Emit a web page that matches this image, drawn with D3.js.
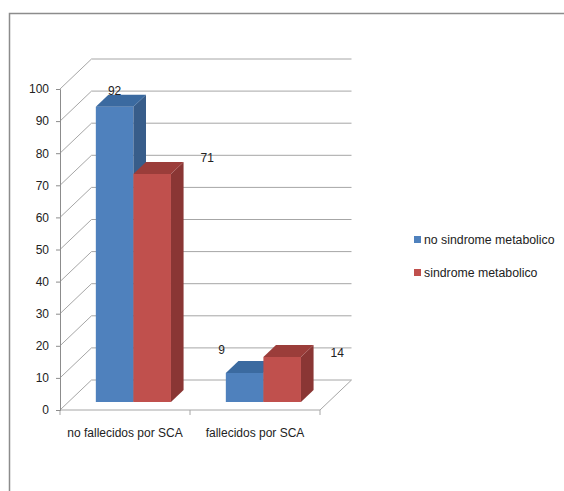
<!DOCTYPE html>
<html>
<head>
<meta charset="utf-8">
<script src="https://cdn.jsdelivr.net/npm/d3@7"></script>
<style>
  body { margin: 0; background: #fff; }
  text { font-family: "Liberation Sans", Arial, sans-serif; fill: #222; }
</style>
</head>
<body>
<div id="chart"></div>
<script>
// data
const categories = ["no fallecidos por SCA", "fallecidos por SCA"];
const seriesNames = ["no sindrome metabolico", "sindrome metabolico"];
const noSindrome = [92, 9];
const sindrome = [71, 14];
const yTicks = [0, 10, 20, 30, 40, 50, 60, 70, 80, 90, 100];

const seriesValues = [noSindrome, sindrome];
const colors = [
    { front: "#4f81bd", side: "#385d8a", top: "#3b6aa0" },
    { front: "#c0504d", side: "#8a3634", top: "#9b3d3a" }
];

const W = 564, H = 491;
const wallDepth = 30;
const barFront = 8, barBack = 20;
// oblique projection: depth d moves a point right and up
const px = d => d * 1.05;
const py = d => -d;

const svg = d3.select("#chart").append("svg")
    .attr("width", W)
    .attr("height", H);

// outer frame
svg.append("path")
    .attr("d", "M9.5," + H + " L9.5,13.5 L" + W + ",13.5")
    .attr("fill", "none")
    .attr("stroke", "#8c8c8c")
    .attr("stroke-width", 1.5);

var x0 = d3.scaleBand()
    .domain(categories)
    .range([60, 320]);

var x1 = d3.scaleBand()
    .domain(seriesNames)
    .range([0, x0.bandwidth()])
    .paddingOuter(0.73);

var y = d3.scaleLinear()
    .domain([0, 100])
    .range([410, 89]);

const grid = svg.append("g").attr("stroke", "#a6a6a6").attr("fill", "none");

// back wall gridlines + left wall diagonals
yTicks.forEach(t => {
    grid.append("line")
        .attr("x1", x0.range()[0] + px(wallDepth)).attr("y1", y(t) + py(wallDepth))
        .attr("x2", x0.range()[1] + px(wallDepth)).attr("y2", y(t) + py(wallDepth));
    grid.append("line")
        .attr("x1", x0.range()[0]).attr("y1", y(t))
        .attr("x2", x0.range()[0] + px(wallDepth)).attr("y2", y(t) + py(wallDepth));
});

// floor front + right edge
grid.append("path")
    .attr("d", "M" + x0.range()[0] + "," + y(0) + " L" + x0.range()[1] + "," + y(0) +
        " L" + (x0.range()[1] + px(wallDepth)) + "," + (y(0) + py(wallDepth)));

// y axis (front left edge)
const yAxis = d3.axisLeft(y).tickValues(yTicks).tickSize(4).tickPadding(7);
const yg = svg.append("g")
    .attr("transform", "translate(" + x0.range()[0] + ",0)")
    .call(yAxis);
yg.select(".domain").attr("stroke", "#8c8c8c");
yg.selectAll(".tick line").attr("stroke", "#8c8c8c");
yg.selectAll(".tick text")
    .style("font-family", "Liberation Sans, Arial, sans-serif")
    .attr("font-size", "12px")
    .attr("fill", "#222");

// category ticks on the floor front edge
[x0.range()[0], x0.range()[0] + x0.step(), x0.range()[1]].forEach(v => {
    grid.append("line")
        .attr("x1", v).attr("y1", y(0))
        .attr("x2", v).attr("y2", y(0) + 5);
});

// category labels
svg.selectAll(".cat")
    .data(categories)
    .enter().append("text")
    .attr("class", "cat")
    .attr("x", d => x0(d) + x0.bandwidth() / 2)
    .attr("y", 437)
    .attr("text-anchor", "middle")
    .attr("font-size", "12px")
    .text(d => d);

// 3D bars
const bars = [];
categories.forEach((c, ci) => {
    seriesNames.forEach((s, si) => {
        bars.push({ cat: c, series: s, si: si, value: seriesValues[si][ci] });
    });
});

function pt(xv, yv, d) { return [xv + px(d), yv + py(d)]; }
function poly(ps) { return "M" + ps.map(p => p.join(",")).join("L") + "Z"; }

const barG = svg.append("g");
bars.forEach(b => {
    const xl = x0(b.cat) + x1(b.series);
    const xr = xl + x1.bandwidth();
    const yb = y(0), yt = y(b.value);
    const c = colors[b.si];
    const g = barG.append("g");
    // front
    g.append("path")
        .attr("d", poly([pt(xl, yb, barFront), pt(xr, yb, barFront), pt(xr, yt, barFront), pt(xl, yt, barFront)]))
        .attr("fill", c.front);
    // right side
    g.append("path")
        .attr("d", poly([pt(xr, yb, barFront), pt(xr, yb, barBack), pt(xr, yt, barBack), pt(xr, yt, barFront)]))
        .attr("fill", c.side);
    // top
    g.append("path")
        .attr("d", poly([pt(xl, yt, barFront), pt(xr, yt, barFront), pt(xr, yt, barBack), pt(xl, yt, barBack)]))
        .attr("fill", c.top);
    b.cx = (xl + xr) / 2 + px(barFront);
    b.top = yt + py(barFront);
});

// value labels, nudged the way the original placed them
const nudge = [[0, -12], [55, -12], [-23, -19], [55, 0]];
svg.selectAll(".val")
    .data(bars)
    .enter().append("text")
    .attr("class", "val")
    .attr("x", (d, i) => d.cx + nudge[i][0])
    .attr("y", (d, i) => d.top + nudge[i][1])
    .attr("text-anchor", "middle")
    .attr("font-size", "12px")
    .text(d => d.value);

// legend
const legend = svg.selectAll(".legend")
    .data(seriesNames)
    .enter().append("g")
    .attr("class", "legend")
    .attr("transform", (d, i) => "translate(414," + (236 + i * 33) + ")");

legend.append("rect")
    .attr("width", 7)
    .attr("height", 7)
    .attr("fill", (d, i) => colors[i].front);

legend.append("text")
    .attr("x", 10)
    .attr("y", 4)
    .attr("dy", ".35em")
    .attr("font-size", "12.3px")
    .text(d => d);
</script>
</body>
</html>
